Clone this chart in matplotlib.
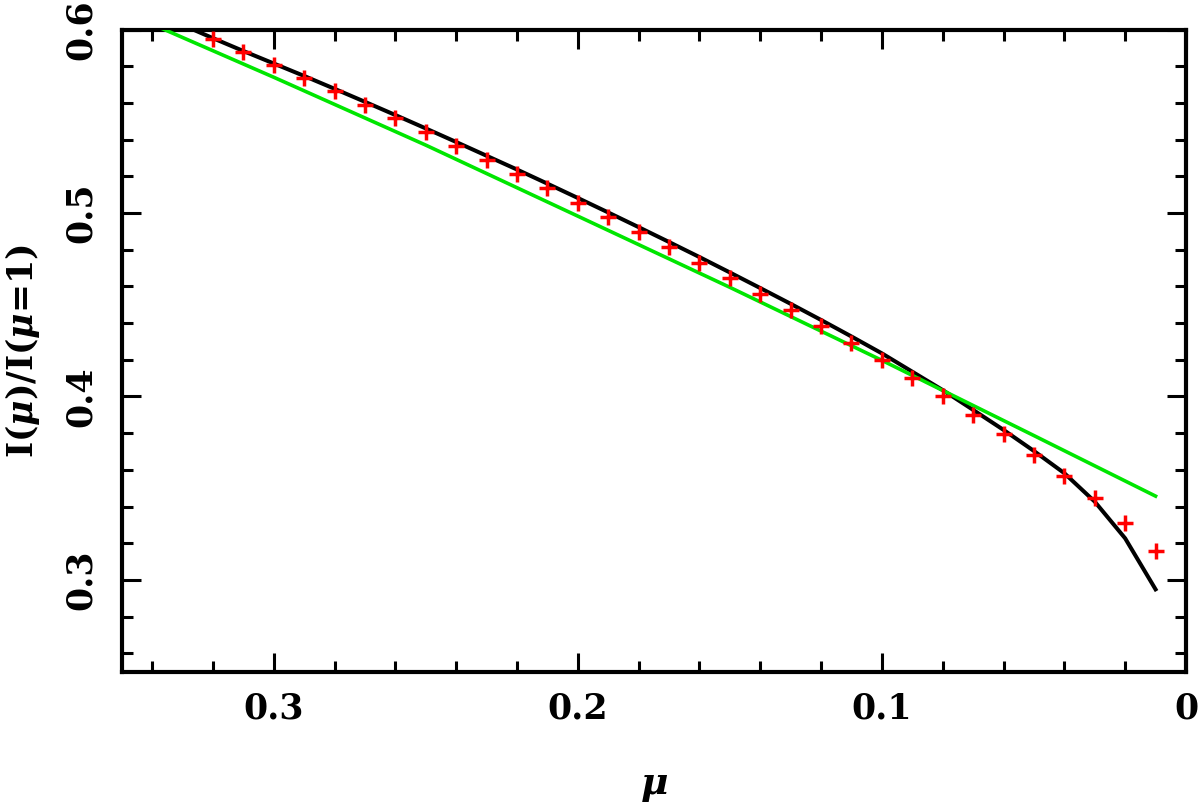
import numpy as np
import matplotlib
matplotlib.use('Agg')
import matplotlib.pyplot as plt
from matplotlib.ticker import MultipleLocator, FuncFormatter


# model curve (black)
mu_model = [0.33, 0.32, 0.31, 0.30, 0.29, 0.28, 0.27, 0.26, 0.25, 0.24, 0.23,
            0.22, 0.21, 0.20, 0.19, 0.18, 0.17, 0.16, 0.15, 0.14, 0.13, 0.12,
            0.11, 0.10, 0.09, 0.08, 0.07, 0.06, 0.05, 0.04, 0.03, 0.02, 0.01]
I_model = [0.6025, 0.5953, 0.5883, 0.5815, 0.5747, 0.5677, 0.5606, 0.5534,
           0.5461, 0.5387, 0.5312, 0.5237, 0.5160, 0.5082, 0.5003, 0.4923,
           0.4842, 0.4760, 0.4676, 0.4591, 0.4505, 0.4417, 0.4327, 0.4235,
           0.4135, 0.4035, 0.3927, 0.3818, 0.3703, 0.3582, 0.3427, 0.3227,
           0.2949]

# fitted law (green)
mu_fit = [0.34, 0.30, 0.25, 0.20, 0.15, 0.10, 0.05, 0.01]
I_fit = [0.6029, 0.5740, 0.5370, 0.4983, 0.4595, 0.4197, 0.3787, 0.3457]

# data points (red crosses)
mu_pts = [0.32, 0.31, 0.30, 0.29, 0.28, 0.27, 0.26, 0.25, 0.24, 0.23, 0.22,
          0.21, 0.20, 0.19, 0.18, 0.17, 0.16, 0.15, 0.14, 0.13, 0.12, 0.11,
          0.10, 0.09, 0.08, 0.07, 0.06, 0.05, 0.04, 0.03, 0.02, 0.01]
I_pts = [0.5951, 0.5879, 0.5807, 0.5736, 0.5664, 0.5591, 0.5517, 0.5442,
         0.5366, 0.5290, 0.5213, 0.5135, 0.5056, 0.4976, 0.4895, 0.4813,
         0.4730, 0.4645, 0.4560, 0.4473, 0.4385, 0.4294, 0.4200, 0.4102,
         0.4002, 0.3900, 0.3794, 0.3683, 0.3567, 0.3446, 0.3312, 0.3158]


plt.rcParams['font.family'] = 'DejaVu Serif'
plt.rcParams['font.weight'] = 'bold'
plt.rcParams['axes.labelweight'] = 'bold'
plt.rcParams['mathtext.fontset'] = 'custom'
plt.rcParams['mathtext.it'] = 'DejaVu Serif:italic:bold'
plt.rcParams['mathtext.rm'] = 'DejaVu Serif:bold'

fig = plt.figure(figsize=(12, 8.09), dpi=100)
ax = fig.add_axes([0.1014, 0.1697, 0.8869, 0.7938])

ax.plot(mu_model, I_model, color='black', lw=2.9, zorder=2)
ax.plot(mu_fit, I_fit, color='#00e600', lw=2.6, zorder=3)
ax.plot(mu_pts, I_pts, ls='none', marker='+', ms=11.5, mew=2.5,
        color='#ff0000', zorder=4)

ax.set_xlim(0.35, 0)
ax.set_ylim(0.25, 0.6)

ax.xaxis.set_major_locator(MultipleLocator(0.1))
ax.xaxis.set_minor_locator(MultipleLocator(0.02))
ax.yaxis.set_major_locator(MultipleLocator(0.1))
ax.yaxis.set_minor_locator(MultipleLocator(0.02))
fmt = FuncFormatter(lambda v, p: '0' if abs(v) < 1e-9 else '%.1f' % v)
ax.xaxis.set_major_formatter(fmt)
ax.yaxis.set_major_formatter(fmt)

ax.tick_params(which='both', direction='in', top=True, right=True,
               width=2.2, labelsize=25)
ax.tick_params(which='major', length=14)
ax.tick_params(which='minor', length=8)
ax.tick_params(axis='x', which='major', pad=14)
ax.tick_params(axis='y', which='major', pad=17)
for lab in ax.get_yticklabels():
    lab.set_rotation(90)
    lab.set_va('center')

for s in ax.spines.values():
    s.set_linewidth(3)

ax.set_xlabel(r'$\mu$', fontsize=27, labelpad=30)
ax.set_ylabel(r'I($\mu$)/I($\mu$=1)', fontsize=25, labelpad=16)

fig.savefig('out.png', dpi=100)
